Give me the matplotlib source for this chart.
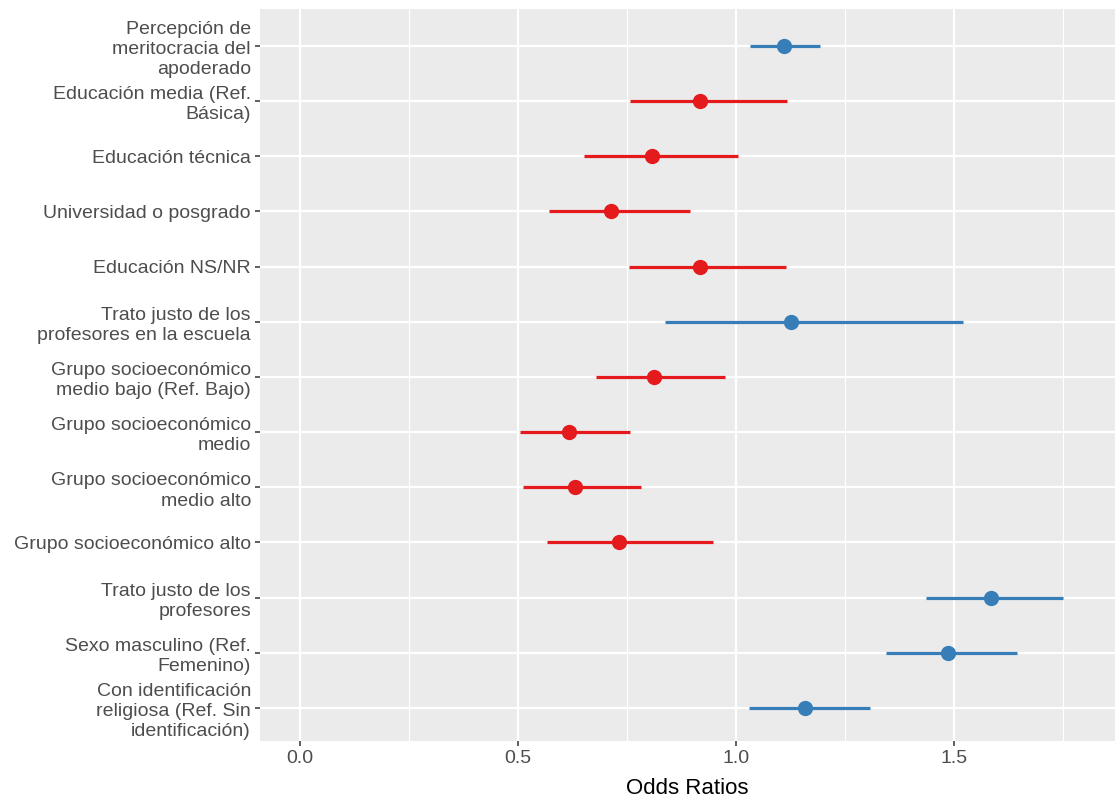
import matplotlib
matplotlib.use("Agg")
import matplotlib.pyplot as plt
from matplotlib.ticker import MultipleLocator

plt.rcParams["font.family"] = ["Liberation Sans", "DejaVu Sans"]

# labels top to bottom
LABELS = [
    "Percepción de\nmeritocracia del\napoderado",
    "Educación media (Ref.\nBásica)",
    "Educación técnica",
    "Universidad o posgrado",
    "Educación NS/NR",
    "Trato justo de los\nprofesores en la escuela",
    "Grupo socioeconómico\nmedio bajo (Ref. Bajo)",
    "Grupo socioeconómico\nmedio",
    "Grupo socioeconómico\nmedio alto",
    "Grupo socioeconómico alto",
    "Trato justo de los\nprofesores",
    "Sexo masculino (Ref.\nFemenino)",
    "Con identificación\nreligiosa (Ref. Sin\nidentificación)",
]
ESTIMATE = [1.110, 0.917, 0.807, 0.713, 0.917, 1.126, 0.812, 0.617, 0.631, 0.732, 1.585, 1.486, 1.158]
CI_LOW = [1.032, 0.757, 0.651, 0.571, 0.755, 0.837, 0.679, 0.505, 0.511, 0.567, 1.436, 1.344, 1.030]
CI_HIGH = [1.193, 1.117, 1.005, 0.894, 1.115, 1.521, 0.975, 0.757, 0.782, 0.947, 1.750, 1.644, 1.307]

RED, BLUE = "#E41A1C", "#377EB8"

fig = plt.figure(figsize=(11.15, 8.01), dpi=100)
ax = fig.add_axes([260 / 1115, 1 - 741 / 801, 855 / 1115, 732 / 801])
ax.set_facecolor("#EBEBEB")
for s in ax.spines.values():
    s.set_visible(False)

for i, (est, lo, hi) in enumerate(zip(ESTIMATE, CI_LOW, CI_HIGH)):
    col = BLUE if est > 1 else RED
    ax.plot([lo, hi], [i, i], color=col, lw=2.3, solid_capstyle="butt", zorder=3)
    ax.plot(est, i, "o", color=col, ms=11, mec="none", zorder=4)

ax.set_xlim(-0.092, 1.869)
ax.set_ylim(12.6, -0.67)
ax.xaxis.set_major_locator(MultipleLocator(0.5))
ax.xaxis.set_minor_locator(MultipleLocator(0.25))
ax.set_xticks([0.0, 0.5, 1.0, 1.5])
ax.set_xticklabels(["0.0", "0.5", "1.0", "1.5"])
ax.set_yticks(range(len(LABELS)))
ax.set_yticklabels(LABELS, linespacing=1.25)
ax.grid(which="major", color="white", lw=1.6, zorder=0)
ax.grid(which="minor", axis="x", color="white", lw=0.8, zorder=0)
ax.set_axisbelow(True)
ax.tick_params(axis="both", which="major", length=3.5, width=1.1, color="#333333",
               labelcolor="#4D4D4D", labelsize=14, pad=3)
ax.tick_params(axis="x", which="minor", length=0)
ax.set_xlabel("Odds Ratios", fontsize=16, color="black", labelpad=8)

fig.savefig("out.png", dpi=100)
